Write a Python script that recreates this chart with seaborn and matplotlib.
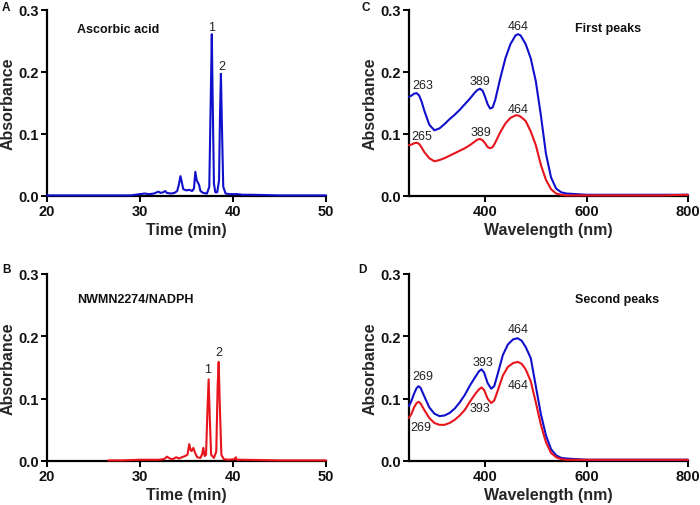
import numpy as np
import pandas as pd
import matplotlib
matplotlib.use("Agg")
import matplotlib.pyplot as plt
import seaborn as sns

sns.set_theme(style="ticks")
plt.rcParams['font.family'] = ['Liberation Sans', 'DejaVu Sans']

BLUE = '#1010cc'
RED = '#e8141c'

# ---- Panel A: HPLC, ascorbic acid (blue) ----
time_a = [20, 25, 29, 29.5, 30, 30.5, 31, 31.5, 31.8, 32.0, 32.2, 32.5, 32.7, 32.9, 33.3, 33.7,
          34.0, 34.2, 34.35, 34.5, 34.65, 35.0, 35.3, 35.6, 35.8, 35.95, 36.1, 36.25, 36.35,
          36.5, 36.8, 37.2, 37.45, 37.6, 37.72, 37.82, 37.95, 38.1, 38.3, 38.5, 38.6, 38.7,
          38.8, 38.95, 39.2, 39.6, 40.0, 40.5, 41, 42, 45, 50]
abs_a = [0.001, 0.001, 0.001, 0.002, 0.003, 0.004, 0.003, 0.004, 0.006, 0.007, 0.005, 0.006,
         0.008, 0.005, 0.004, 0.005, 0.008, 0.020, 0.032, 0.022, 0.011, 0.009, 0.010, 0.008,
         0.012, 0.039, 0.025, 0.021, 0.018, 0.008, 0.005, 0.004, 0.015, 0.150, 0.261, 0.150,
         0.020, 0.006, 0.006, 0.025, 0.130, 0.197, 0.120, 0.015, 0.004, 0.003, 0.003, 0.003,
         0.002, 0.002, 0.001, 0.001]

# ---- Panel B: HPLC, NWMN2274/NADPH (red) ----
time_b = [26.6, 28, 30, 31, 32, 32.6, 32.9, 33.2, 33.5, 33.9, 34.2, 34.5, 34.85, 35.1, 35.3,
          35.45, 35.55, 35.73, 35.9, 36.15, 36.5, 36.7, 36.8, 36.95, 37.1, 37.25, 37.38, 37.5,
          37.65, 37.95, 38.2, 38.35, 38.46, 38.58, 38.75, 39.0, 39.5, 40.2, 40.3, 40.4, 41,
          45, 50]
abs_b = [0.001, 0.001, 0.002, 0.002, 0.002, 0.003, 0.007, 0.004, 0.003, 0.006, 0.004, 0.006,
         0.008, 0.010, 0.027, 0.017, 0.016, 0.021, 0.014, 0.006, 0.005, 0.012, 0.021, 0.008,
         0.010, 0.080, 0.131, 0.070, 0.010, 0.005, 0.015, 0.120, 0.159, 0.090, 0.010, 0.003,
         0.002, 0.003, 0.006, 0.002, 0.002, 0.001, 0.001]

# ---- Panel C: spectra, first peaks ----
wl_c = [250, 255, 260, 265, 270, 275, 280, 290, 300, 310, 320, 330, 340, 350, 360, 370, 380,
        385, 390, 395, 400, 405, 410, 415, 420, 430, 440, 450, 460, 465, 470, 480, 490, 500,
        510, 520, 530, 540, 550, 560, 580, 600, 650, 700, 750, 800]
blue_c = [0.160, 0.162, 0.165, 0.166, 0.162, 0.152, 0.138, 0.115, 0.106, 0.109, 0.116, 0.124,
          0.131, 0.139, 0.148, 0.157, 0.167, 0.171, 0.173, 0.170, 0.160, 0.148, 0.141, 0.143,
          0.155, 0.190, 0.222, 0.245, 0.259, 0.261, 0.259, 0.245, 0.222, 0.185, 0.130, 0.068,
          0.030, 0.012, 0.006, 0.004, 0.003, 0.002, 0.002, 0.002, 0.002, 0.002]
red_c = [0.082, 0.083, 0.085, 0.086, 0.084, 0.078, 0.071, 0.061, 0.056, 0.058, 0.061, 0.065,
         0.069, 0.073, 0.077, 0.082, 0.088, 0.091, 0.092, 0.090, 0.085, 0.079, 0.077, 0.079,
         0.086, 0.103, 0.117, 0.126, 0.130, 0.130, 0.128, 0.121, 0.104, 0.082, 0.050, 0.026,
         0.011, 0.004, 0.002, 0.001, 0.001, 0.001, 0.001, 0.001, 0.001, 0.002]

# ---- Panel D: spectra, second peaks ----
wl_d = [250, 255, 260, 265, 269, 273, 280, 290, 300, 310, 320, 330, 340, 350, 360, 370, 380,
        388, 393, 398, 405, 412, 418, 425, 435, 445, 455, 464, 472, 480, 490, 500, 510, 520,
        530, 540, 550, 560, 580, 600, 650, 700, 750, 800]
blue_d = [0.088, 0.097, 0.108, 0.117, 0.120, 0.117, 0.104, 0.086, 0.076, 0.072, 0.073, 0.077,
          0.084, 0.094, 0.106, 0.121, 0.134, 0.144, 0.147, 0.142, 0.125, 0.116, 0.120, 0.140,
          0.170, 0.187, 0.195, 0.197, 0.193, 0.183, 0.165, 0.120, 0.075, 0.041, 0.019, 0.009,
          0.005, 0.004, 0.003, 0.002, 0.002, 0.002, 0.002, 0.002]
red_d = [0.069, 0.076, 0.086, 0.093, 0.095, 0.092, 0.082, 0.069, 0.061, 0.058, 0.058, 0.061,
         0.066, 0.073, 0.082, 0.095, 0.107, 0.115, 0.118, 0.114, 0.100, 0.093, 0.097, 0.113,
         0.137, 0.151, 0.157, 0.159, 0.156, 0.147, 0.128, 0.094, 0.058, 0.030, 0.013, 0.006,
         0.003, 0.002, 0.002, 0.002, 0.002, 0.002, 0.002, 0.002]

fig = plt.figure(figsize=(7.0, 5.06), dpi=100)
W, H = 700.0, 506.0

def make_ax(l, r, t, b):
    return fig.add_axes([l / W, 1 - b / H, (r - l) / W, (b - t) / H])

axA = make_ax(47, 326, 11, 197)
axC = make_ax(409, 688, 11, 197)
axB = make_ax(47, 326, 275, 462)
axD = make_ax(409, 688, 275, 462)

def style(ax, xlim, xticks, xlabel):
    ax.set_xlim(*xlim)
    ax.set_ylim(0, 0.3)
    ax.set_xticks(xticks)
    ax.set_yticks([0, 0.1, 0.2, 0.3])
    ax.set_yticklabels(['0.0', '0.1', '0.2', '0.3'])
    ax.set_xticklabels([str(v) for v in xticks])
    for s in ['top', 'right']:
        ax.spines[s].set_visible(False)
    for s in ['left', 'bottom']:
        ax.spines[s].set_linewidth(1.6)
        ax.spines[s].set_color('black')
    ax.tick_params(direction='out', length=4, width=1.4, color='black', pad=2,
                   labelsize=10.5, labelcolor='#111111')
    for lab in ax.get_xticklabels() + ax.get_yticklabels():
        lab.set_fontweight('bold')
    ax.set_xlabel(xlabel, fontsize=11.5, fontweight='bold', labelpad=3)
    ax.set_ylabel('Absorbance', fontsize=11.5, fontweight='bold', labelpad=2)
    ax.set_facecolor('white')
    ax.grid(False)

def line(ax, x, y, color):
    df = pd.DataFrame({'x': x, 'y': y})
    sns.lineplot(data=df, x='x', y='y', ax=ax, color=color, linewidth=1.5,
                 estimator=None, sort=False, legend=False, clip_on=False, zorder=5)

line(axA, time_a, abs_a, BLUE)
line(axB, time_b, abs_b, RED)
line(axC, wl_c, blue_c, BLUE)
line(axC, wl_c, red_c, RED)
line(axD, wl_d, blue_d, BLUE)
line(axD, wl_d, red_d, RED)

style(axA, (20, 50), [20, 30, 40, 50], 'Time (min)')
style(axB, (20, 50), [20, 30, 40, 50], 'Time (min)')
style(axC, (250, 800), [400, 600, 800], 'Wavelength (nm)')
style(axD, (250, 800), [400, 600, 800], 'Wavelength (nm)')

tk = dict(fontsize=9, fontweight='bold', color='#111111', va='center', ha='left')
axA.text(23.2, 0.269, 'Ascorbic acid', **tk)
axB.text(23.2, 0.26, 'NWMN2274/NADPH', **tk)
axC.text(577, 0.271, 'First peaks', **tk)
axD.text(578, 0.26, 'Second peaks', **tk)

pk = dict(fontsize=9, color='#222222', ha='center', va='center')
axA.text(37.7, 0.273, '1', **pk)
axA.text(38.75, 0.209, '2', **pk)
axB.text(37.25, 0.147, '1', **pk)
axB.text(38.5, 0.175, '2', **pk)

axC.text(276.6, 0.179, '263', **pk)
axC.text(389.6, 0.186, '389', **pk)
axC.text(465, 0.274, '464', **pk)
axC.text(275, 0.096, '265', **pk)
axC.text(391.5, 0.103, '389', **pk)
axC.text(465, 0.141, '464', **pk)

axD.text(276.6, 0.136, '269', **pk)
axD.text(396, 0.159, '393', **pk)
axD.text(465, 0.211, '464', **pk)
axD.text(465, 0.122, '464', **pk)
axD.text(389.6, 0.085, '393', **pk)
axD.text(273, 0.054, '269', **pk)

lk = dict(fontsize=8.5, fontweight='bold', color='#111111', ha='left', va='center')
fig.text(2 / W, 1 - 8 / H, 'A', **lk)
fig.text(361 / W, 1 - 8 / H, 'C', **lk)
fig.text(2 / W, 1 - 270 / H, 'B', **lk)
fig.text(358 / W, 1 - 270 / H, 'D', **lk)

fig.savefig('out.png', dpi=100, facecolor='white')
